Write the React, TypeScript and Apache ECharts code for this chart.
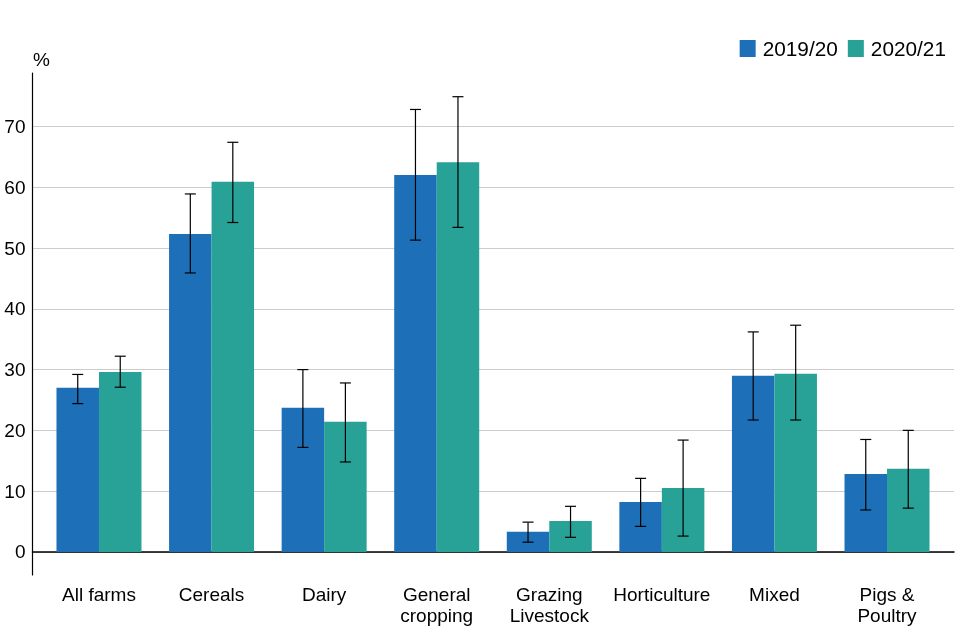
import React, { useEffect, useRef } from "react";
import * as echarts from "echarts";

const categories = ["All farms", "Cereals", "Dairy", "General\ncropping", "Grazing\nLivestock", "Horticulture", "Mixed", "Pigs &\nPoultry"];
const seriesNames = ["2019/20", "2020/21"];
const values2019 = [27.0, 52.3, 23.7, 62.0, 3.3, 8.2, 29.0, 12.8];
const low2019 = [24.4, 45.9, 17.2, 51.3, 1.6, 4.2, 21.7, 6.9];
const high2019 = [29.2, 58.9, 30.0, 72.8, 4.9, 12.1, 36.2, 18.5];
const values2020 = [29.6, 60.9, 21.4, 64.1, 5.1, 10.5, 29.3, 13.7];
const low2020 = [27.1, 54.2, 14.8, 53.4, 2.4, 2.6, 21.7, 7.2];
const high2020 = [32.2, 67.4, 27.8, 74.9, 7.5, 18.4, 37.3, 20.0];
const yTicks = [0, 10, 20, 30, 40, 50, 60, 70];
const colors = ["#1d70b8", "#28a197"];

const FONT = "'Liberation Sans', Arial, sans-serif";
const BAR_W = 42.5;

export default function App() {
  const ref = useRef<HTMLDivElement>(null);
  useEffect(() => {
    if (!ref.current) return;
    const chart = echarts.init(ref.current, null, { renderer: "svg" });
    const errSeries = (idx: number, lows: number[], highs: number[]) => ({
      type: "custom",
      name: seriesNames[idx] + " CI",
      xAxisIndex: 1,
      yAxisIndex: 1,
      z: 10,
      silent: true,
      data: lows.map((l, i) => [i, l, highs[i]]),
      renderItem: (params: any, api: any) => {
        const i = api.value(0);
        const lo = api.coord([i, api.value(1)]);
        const hi = api.coord([i, api.value(2)]);
        const x = lo[0] + (idx === 0 ? -BAR_W / 2 : BAR_W / 2);
        const cap = 5.5;
        const style = { stroke: "#000", lineWidth: 1.2 };
        return {
          type: "group",
          children: [
            { type: "line", shape: { x1: x, y1: hi[1], x2: x, y2: lo[1] }, style },
            { type: "line", shape: { x1: x - cap, y1: hi[1], x2: x + cap, y2: hi[1] }, style },
            { type: "line", shape: { x1: x - cap, y1: lo[1], x2: x + cap, y2: lo[1] }, style },
          ],
        };
      },
    });
    chart.setOption({
      animation: false,
      textStyle: { fontFamily: FONT },
      legend: {
        data: seriesNames.map((n) => ({ name: n, icon: "rect" })),
        right: 9,
        top: 33,
        itemWidth: 16,
        itemHeight: 17,
        itemGap: 10,
        textStyle: { fontSize: 20.8, color: "#000", fontFamily: FONT, padding: [0, 0, 0, 2] },
      },
      graphic: [
        { type: "text", left: 33, top: 50, style: { text: "%", fontSize: 19, fill: "#000", fontFamily: FONT } },
      ],
      grid: [
        { left: 32.5, right: 6, top: 73, bottom: 65 },
        { left: 42.7, right: 16.7, top: 73, bottom: 65 },
      ],
      xAxis: [
        {
          gridIndex: 0,
          type: "value",
          min: 0,
          max: 1,
          axisLine: { show: true, onZero: true, lineStyle: { color: "#000", width: 1.5 } },
          axisTick: { show: false },
          axisLabel: { show: false },
          splitLine: { show: false },
        },
        {
          gridIndex: 1,
          type: "category",
          data: categories,
          axisLine: { show: false, onZero: false },
          axisTick: { show: false },
          axisLabel: { margin: 9, fontSize: 19, lineHeight: 21, color: "#000", fontFamily: FONT, interval: 0 },
        },
      ],
      yAxis: [
        {
          gridIndex: 0,
          type: "value",
          min: -3.8,
          max: 78.8,
          axisLine: { show: true, lineStyle: { color: "#000", width: 1.2 } },
          axisTick: { show: false, customValues: yTicks },
          axisLabel: { customValues: yTicks, margin: 7, fontSize: 19, color: "#000", fontFamily: FONT },
          splitLine: { show: true, lineStyle: { color: "#cccccc", width: 1 } },
        },
        {
          gridIndex: 1,
          type: "value",
          min: -3.8,
          max: 78.8,
          show: false,
          splitLine: { show: false },
        },
      ],
      series: [
        {
          type: "bar",
          name: seriesNames[0],
          xAxisIndex: 1,
          yAxisIndex: 1,
          data: values2019,
          barWidth: BAR_W,
          barGap: "0%",
          itemStyle: { color: colors[0] },
        },
        {
          type: "bar",
          name: seriesNames[1],
          xAxisIndex: 1,
          yAxisIndex: 1,
          data: values2020,
          barWidth: BAR_W,
          barGap: "0%",
          itemStyle: { color: colors[1] },
        },
        errSeries(0, low2019, high2019),
        errSeries(1, low2020, high2020),
      ],
    });
    return () => chart.dispose();
  }, []);
  return <div ref={ref} style={{ position: "fixed", left: 0, top: 0, width: 960, height: 640 }} />;
}
